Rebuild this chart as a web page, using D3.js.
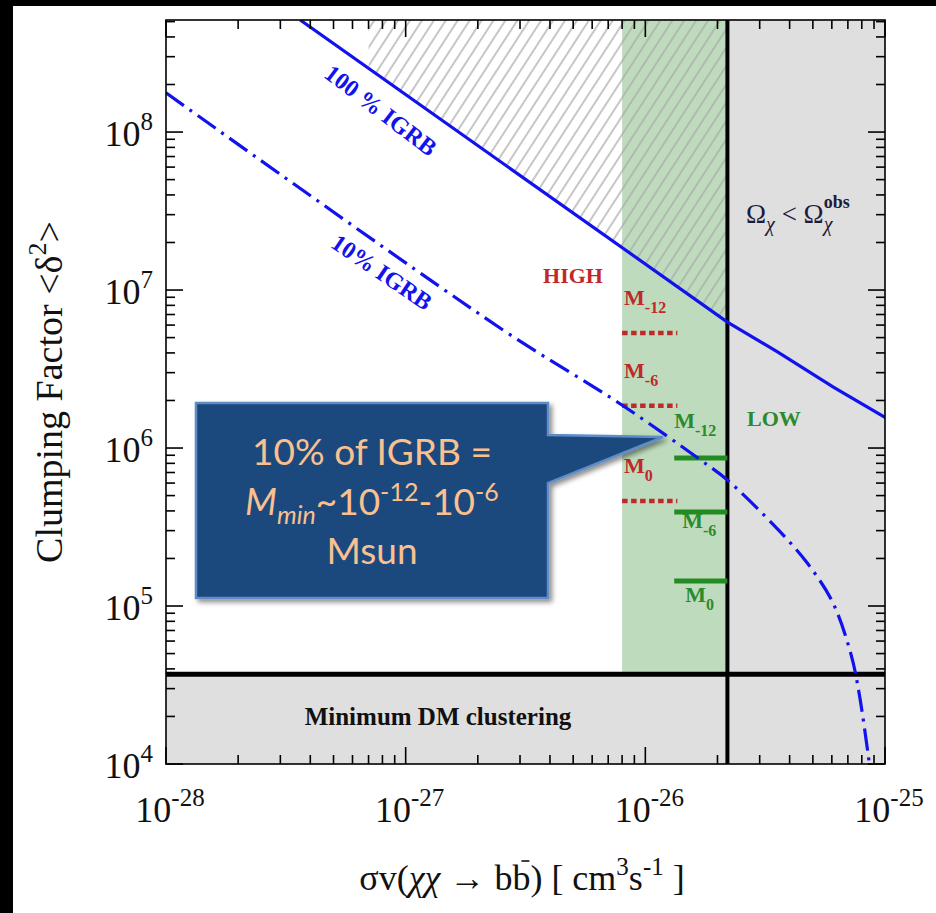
<!DOCTYPE html>
<html><head><meta charset="utf-8">
<script src="https://cdn.jsdelivr.net/npm/d3@7"></script>
<style>body{margin:0;background:#fff;} svg{display:block;}</style>
</head><body>
<script>
// ---------------- data ----------------
const xDomain = [1e-28, 1e-25];
const yDomain = [1e4, 5.12e8];
const xTickExponents = [-28, -27, -26, -25];
const yTickExponents = [4, 5, 6, 7, 8];

// 100% IGRB limit  [sigma v, clumping factor]
const igrb100 = [
  [3.63e-28, 5.12e8],
  [2.20e-26, 6.27e6],
  [3.56e-26, 4.06e6],
  [6.09e-26, 2.43e6],
  [1.01e-25, 1.55e6]
];
// 10% IGRB limit
const igrb10 = [
  [1.00e-28, 1.77e8],
  [2.55e-27, 5.58e6],
  [7.87e-27, 1.90e6],
  [1.70e-26, 8.40e5],
  [2.20e-26, 6.27e5],
  [3.59e-26, 3.03e5],
  [4.74e-26, 1.87e5],
  [6.04e-26, 1.06e5],
  [7.20e-26, 5.00e4],
  [7.80e-26, 2.80e4],
  [8.61e-26, 1.00e4]
];
const thermalRelic = 2.2e-26;
const greenBandStart = 8.0e-27;
const minClustering = 3.7e4;
const hatchStart = 7.0e-28;
const highRange = [8.0e-27, 1.36e-26];
const highLevels = [5.35e6, 1.85e6, 4.62e5];
const highLabels = ["-12", "-6", "0"];
const lowRange = [1.32e-26, 2.2e-26];
const lowLevels = [8.65e5, 3.94e5, 1.44e5];
const lowLabels = ["-12", "-6", "0"];

// ---------------- setup ----------------
const W = 936, H = 913;
const M = {l: 166, r: 885, t: 20, b: 764};
const serif = "'Liberation Serif','Times New Roman',serif";
const BLUE = "#1212ee", RED = "#c0282a", GREEN = "#228b22", GREENTXT = "#2b8a2b";

const svg = d3.select("body").append("svg").attr("width", W).attr("height", H)
  .style("font-family", serif);
const x = d3.scaleLog().domain(xDomain).range([M.l, M.r]);
const y = d3.scaleLog().domain(yDomain).range([M.b, M.t]);

svg.append("rect").attr("width", W).attr("height", H).attr("fill", "#fff");
svg.append("rect").attr("x", 0).attr("y", 0).attr("width", W).attr("height", 6).attr("fill", "#000");
svg.append("rect").attr("x", 0).attr("y", 0).attr("width", 13).attr("height", H).attr("fill", "#000");

const defs = svg.append("defs");
defs.append("clipPath").attr("id", "plotClip").append("rect")
  .attr("x", M.l).attr("y", M.t).attr("width", M.r - M.l).attr("height", M.b - M.t);
const pat = defs.append("pattern").attr("id", "hatch").attr("patternUnits", "userSpaceOnUse")
  .attr("width", 10).attr("height", 10).attr("patternTransform", "rotate(33)");
pat.append("line").attr("x1", 5).attr("y1", -1).attr("x2", 5).attr("y2", 11)
  .attr("stroke", "#a8a8a8").attr("stroke-width", 1.3);
const flt = defs.append("filter").attr("id", "shadow").attr("x", "-10%").attr("y", "-10%")
  .attr("width", "130%").attr("height", "130%");
flt.append("feDropShadow").attr("dx", 3).attr("dy", 3).attr("stdDeviation", 2.5)
  .attr("flood-color", "#000").attr("flood-opacity", 0.45);

const areaAbove = d3.area().x(d => x(d[0])).y0(M.t - 5).y1(d => y(d[1]));
defs.append("clipPath").attr("id", "hatchClip").append("path").attr("d", areaAbove(igrb100));

const plot = svg.append("g").attr("clip-path", "url(#plotClip)");

// regions
plot.append("rect").attr("x", x(thermalRelic)).attr("y", M.t)
  .attr("width", M.r - x(thermalRelic)).attr("height", M.b - M.t).attr("fill", "#dfdfdf");
plot.append("rect").attr("x", M.l).attr("y", y(minClustering))
  .attr("width", M.r - M.l).attr("height", M.b - y(minClustering)).attr("fill", "#dfdfdf");
plot.append("rect").attr("x", x(greenBandStart)).attr("y", M.t)
  .attr("width", x(thermalRelic) - x(greenBandStart)).attr("height", y(minClustering) - M.t)
  .attr("fill", "#bedcbd");
plot.append("g").attr("clip-path", "url(#hatchClip)").append("rect")
  .attr("x", x(hatchStart)).attr("y", M.t)
  .attr("width", x(thermalRelic) - x(hatchStart)).attr("height", M.b - M.t)
  .attr("fill", "url(#hatch)");

// black boundaries
plot.append("line").attr("x1", x(thermalRelic)).attr("x2", x(thermalRelic))
  .attr("y1", M.t).attr("y2", M.b).attr("stroke", "#000").attr("stroke-width", 4);
plot.append("line").attr("x1", M.l).attr("x2", M.r)
  .attr("y1", y(minClustering)).attr("y2", y(minClustering)).attr("stroke", "#000").attr("stroke-width", 5);

// segments
highLevels.forEach(v => {
  plot.append("line").attr("x1", x(highRange[0])).attr("x2", x(highRange[1]))
    .attr("y1", y(v)).attr("y2", y(v)).attr("stroke", RED).attr("stroke-width", 4.5)
    .attr("stroke-dasharray", "5.5,3.5");
});
lowLevels.forEach(v => {
  plot.append("line").attr("x1", x(lowRange[0])).attr("x2", x(lowRange[1]))
    .attr("y1", y(v)).attr("y2", y(v)).attr("stroke", GREEN).attr("stroke-width", 5);
});

// curves
const line = d3.line().x(d => x(d[0])).y(d => y(d[1]));
plot.append("path").attr("d", line(igrb100)).attr("fill", "none")
  .attr("stroke", BLUE).attr("stroke-width", 3.2);
plot.append("path").attr("d", line.curve(d3.curveCatmullRom.alpha(0.5))(igrb10)).attr("fill", "none")
  .attr("stroke", BLUE).attr("stroke-width", 3.2).attr("stroke-dasharray", "22,7,3,7");

// helper: pixel y of a polyline at pixel x
function yAt(data, px) {
  const pts = data.map(d => [x(d[0]), y(d[1])]);
  for (let i = 0; i < pts.length - 1; i++) {
    if (px >= pts[i][0] && px <= pts[i + 1][0]) {
      const t = (px - pts[i][0]) / (pts[i + 1][0] - pts[i][0]);
      return pts[i][1] + t * (pts[i + 1][1] - pts[i][1]);
    }
  }
  return pts[0][1];
}
function angleOf(data, i) {
  const a = [x(data[i][0]), y(data[i][1])], b = [x(data[i + 1][0]), y(data[i + 1][1])];
  return Math.atan2(b[1] - a[1], b[0] - a[0]) * 180 / Math.PI;
}

// curve labels
[[igrb100, "100 % IGRB", 381, 33, 0], [igrb10, "10% IGRB", 382, 27, 1]].forEach(([d, t, px, off, seg]) => {
  const a = angleOf(d, seg) + 2;
  svg.append("text").attr("transform", `translate(${px},${yAt(d, px) + off}) rotate(${a})`)
    .attr("text-anchor", "middle").attr("dy", "0.35em").attr("font-size", 24)
    .attr("font-weight", "bold").attr("fill", BLUE).text(t);
});

// HIGH / LOW labels
function mLabel(px, py, sub, color) {
  const t = svg.append("text").attr("x", px).attr("y", py).attr("font-size", 22)
    .attr("font-weight", "bold").attr("fill", color);
  t.append("tspan").text("M");
  t.append("tspan").attr("dy", 8).attr("font-size", 16).text(sub);
}
svg.append("text").attr("x", 573).attr("y", 283).attr("text-anchor", "middle")
  .attr("font-size", 22).attr("font-weight", "bold").attr("fill", RED).text("HIGH");
highLevels.forEach((v, i) => mLabel(x(highRange[0]) + 2, y(v) - 28, highLabels[i], RED));
svg.append("text").attr("x", 747).attr("y", 426)
  .attr("font-size", 22).attr("font-weight", "bold").attr("fill", GREENTXT).text("LOW");
const lowOffsets = [[0, -30], [8, 16], [11, 21]];
lowLevels.forEach((v, i) => mLabel(x(lowRange[0]) + lowOffsets[i][0], y(v) + lowOffsets[i][1], lowLabels[i], GREENTXT));

svg.append("text").attr("x", 438).attr("y", 725).attr("text-anchor", "middle")
  .attr("font-size", 25).attr("font-weight", "bold").attr("fill", "#111")
  .text("Minimum DM clustering");

// Omega label
const om = svg.append("text").attr("x", 746).attr("y", 223).attr("font-size", 27).attr("fill", "#1c1c3a");
om.append("tspan").text("Ω");
om.append("tspan").attr("dy", 8).attr("font-size", 20).attr("font-style", "italic").text("χ");
om.append("tspan").attr("dy", -8).text(" < Ω");
const omEnd = 746 + om.node().getComputedTextLength();
svg.append("text").attr("x", omEnd).attr("y", 231).attr("font-size", 20).attr("font-style", "italic")
  .attr("fill", "#1c1c3a").text("χ");
svg.append("text").attr("x", omEnd).attr("y", 208).attr("font-size", 18).attr("font-weight", "bold")
  .attr("fill", "#1c1c3a").text("obs");

// frame + ticks
svg.append("rect").attr("x", M.l).attr("y", M.t).attr("width", M.r - M.l).attr("height", M.b - M.t)
  .attr("fill", "none").attr("stroke", "#000").attr("stroke-width", 1.6);
const tickG = svg.append("g").attr("stroke", "#000").attr("stroke-width", 1.6);
const xt = [], yt = [];
for (let e = -28; e <= -25; e++) for (let k = 1; k <= 9; k++) {
  const v = k * Math.pow(10, e);
  if (v >= xDomain[0] * 0.999 && v <= xDomain[1] * 1.001) xt.push([v, k === 1]);
}
for (let e = 4; e <= 8; e++) for (let k = 1; k <= 9; k++) {
  const v = k * Math.pow(10, e);
  if (v >= yDomain[0] * 0.999 && v <= yDomain[1]) yt.push([v, k === 1]);
}
xt.forEach(([v, maj]) => {
  const L = maj ? 17 : 9, px = x(v);
  tickG.append("line").attr("x1", px).attr("x2", px).attr("y1", M.b).attr("y2", M.b - L);
  tickG.append("line").attr("x1", px).attr("x2", px).attr("y1", M.t).attr("y2", M.t + L);
});
yt.forEach(([v, maj]) => {
  const L = maj ? 17 : 9, py = y(v);
  tickG.append("line").attr("x1", M.l).attr("x2", M.l + L).attr("y1", py).attr("y2", py);
  tickG.append("line").attr("x1", M.r).attr("x2", M.r - L).attr("y1", py).attr("y2", py);
});

// tick labels
xTickExponents.forEach(e => {
  const t = svg.append("text").attr("x", x(Math.pow(10, e)) + 4).attr("y", 822)
    .attr("text-anchor", "middle").attr("font-size", 36).attr("fill", "#111");
  t.append("tspan").text("10");
  t.append("tspan").attr("dy", -16).attr("font-size", 25).text(String(e));
});
yTickExponents.forEach(e => {
  const t = svg.append("text").attr("x", 153).attr("y", y(Math.pow(10, e)) + 14)
    .attr("text-anchor", "end").attr("font-size", 36).attr("fill", "#111");
  t.append("tspan").text("10");
  t.append("tspan").attr("dy", -16).attr("font-size", 25).text(String(e));
});

// axis titles
const xt1 = svg.append("text").attr("x", 522).attr("y", 890).attr("text-anchor", "middle")
  .attr("font-size", 36).attr("fill", "#111");
xt1.append("tspan").text("σv(");
xt1.append("tspan").attr("font-style", "italic").text("χχ");
xt1.append("tspan").text(" → bb) [ cm");
xt1.append("tspan").attr("dy", -15).attr("font-size", 25).text("3");
xt1.append("tspan").attr("dy", 15).text("s");
xt1.append("tspan").attr("dy", -15).attr("font-size", 25).text("-1");
xt1.append("tspan").attr("dy", 15).text(" ]");
// overbar on second b
{
  const full = xt1.text();
  const idx = full.indexOf("bb)") + 1;
  const n = xt1.node();
  const s = n.getStartPositionOfChar(idx), e = n.getEndPositionOfChar(idx);
  svg.append("line").attr("x1", s.x + 9).attr("x2", e.x - 1).attr("y1", 890 - 29).attr("y2", 890 - 29)
    .attr("stroke", "#111").attr("stroke-width", 1.6);
}
const yt1 = svg.append("text").attr("transform", "translate(62,392) rotate(-90)")
  .attr("text-anchor", "middle").attr("font-size", 38).attr("fill", "#111");
yt1.append("tspan").text("Clumping Factor <δ");
yt1.append("tspan").attr("dy", -16).attr("font-size", 26).text("2");
yt1.append("tspan").attr("dy", 16).text(">");

// callout
const tip = [663, 437];
const box = {x0: 196, y0: 403, x1: 548, y1: 598};
const callout = d3.path();
callout.moveTo(box.x0, box.y0); callout.lineTo(box.x1, box.y0); callout.lineTo(box.x1, 435);
callout.lineTo(tip[0], tip[1]); callout.lineTo(box.x1, 483); callout.lineTo(box.x1, box.y1);
callout.lineTo(box.x0, box.y1); callout.closePath();
svg.append("path").attr("d", callout.toString()).attr("fill", "#1f497d")
  .attr("stroke", "#5d8cc6").attr("stroke-width", 2.5).attr("filter", "url(#shadow)");
const cx = (box.x0 + box.x1) / 2, cf = "Lato,'Open Sans',sans-serif", OR = "#fac090";
svg.append("text").attr("x", cx).attr("y", 465).attr("text-anchor", "middle")
  .attr("font-family", cf).attr("font-size", 37).attr("fill", OR).text("10% of IGRB =");
const l2 = svg.append("text").attr("x", cx).attr("y", 515).attr("text-anchor", "middle")
  .attr("font-family", cf).attr("font-size", 37).attr("fill", OR);
l2.append("tspan").attr("font-style", "italic").text("M");
l2.append("tspan").attr("font-style", "italic").attr("font-size", 25).attr("dy", 9).text("min");
l2.append("tspan").attr("dy", -9).text("~10");
l2.append("tspan").attr("font-size", 25).attr("dy", -14).text("-12");
l2.append("tspan").attr("dy", 14).text("-10");
l2.append("tspan").attr("font-size", 25).attr("dy", -14).text("-6");
svg.append("text").attr("x", cx).attr("y", 564).attr("text-anchor", "middle")
  .attr("font-family", cf).attr("font-size", 37).attr("fill", OR).text("Msun");
</script>
</body></html>
